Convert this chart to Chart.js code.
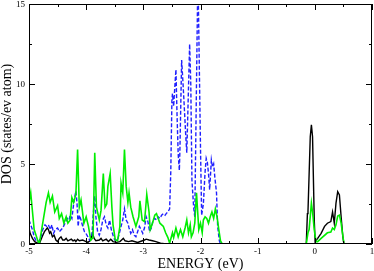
<!DOCTYPE html>
<html>
<head>
<meta charset="utf-8">
<script src="https://cdn.jsdelivr.net/npm/chart.js@4"></script>
<style>
  body { margin: 0; background: #fff; }
</style>
</head>
<body>
<canvas id="dosChart" width="374" height="271"></canvas>
<script>
// energies (eV) and densities of states
const greenE = [-5.00, -4.97, -4.91, -4.85, -4.82, -4.76, -4.70, -4.66, -4.63, -4.59, -4.55, -4.50, -4.47, -4.43, -4.39, -4.35, -4.32, -4.28, -4.25, -4.22, -4.18, -4.15, -4.12, -4.09, -4.04, -4.00, -3.96, -3.92, -3.88, -3.85, -3.82, -3.77, -3.74, -3.70, -3.67, -3.64, -3.62, -3.58, -3.55, -3.53, -3.49, -3.45, -3.41, -3.39, -3.36, -3.33, -3.30, -3.27, -3.25, -3.22, -3.18, -3.13, -3.08, -3.06, -3.02, -2.98, -2.96, -2.94, -2.90, -2.88, -2.84, -2.80, -2.77, -2.74, -2.71, -2.65, -2.61, -2.57, -2.54, -2.49, -2.47, -2.43, -2.39, -2.35, -2.31, -2.27, -2.24, -2.21, -2.18, -2.16, -2.13, -2.10, -2.07, -2.03, -2.00, -1.97, -1.95, -1.92, -1.89, -1.86, -1.83, -1.80, -1.77, -1.74, -1.71, -1.68, -1.65, -1.62, -0.15, -0.12, -0.10, -0.06, -0.04, -0.01, 0.02, 0.05, 0.11, 0.22, 0.28, 0.31, 0.34, 0.37, 0.40, 0.43, 0.46, 0.49, 0.51, 1.00];
const greenDos = [2.6, 3.2, 0.9, 0.25, 0.0, 1.3, 2.6, 3.2, 2.6, 3.0, 2.0, 2.4, 1.6, 1.9, 1.3, 1.7, 1.3, 1.5, 2.9, 2.6, 3.1, 5.9, 2.3, 2.75, 1.3, 1.7, 1.1, 0.25, 0.4, 5.7, 2.3, 1.5, 2.1, 4.4, 2.3, 2.5, 3.6, 4.4, 2.3, 1.2, 0.25, 0.2, 1.1, 3.8, 3.2, 5.9, 3.6, 2.6, 3.2, 2.3, 1.7, 1.1, 1.7, 2.7, 1.5, 1.4, 2.2, 3.1, 2.0, 0.9, 1.3, 1.8, 1.9, 1.6, 1.3, 1.1, 0.7, 0.4, 0.05, 0.7, 0.4, 1.0, 0.45, 0.9, 0.45, 1.0, 1.5, 0.7, 1.2, 0.45, 0.7, 1.3, 3.2, 0.9, 1.3, 0.7, 1.5, 1.7, 1.6, 1.3, 1.7, 2.0, 1.6, 2.2, 1.7, 0.9, 0.2, 0, 0, 0.7, 0.9, 2.55, 2.0, 0.9, 0.15, 0.15, 0.35, 0.7, 0.75, 1.0, 0.9, 1.2, 1.75, 1.8, 1.3, 0.5, 0, 0];

const blueE = [-5.00, -4.97, -4.94, -4.91, -4.87, -4.83, -4.79, -4.76, -4.72, -4.69, -4.66, -4.63, -4.60, -4.57, -4.54, -4.50, -4.47, -4.41, -4.33, -4.30, -4.28, -4.25, -4.21, -4.18, -4.16, -4.14, -4.12, -4.09, -4.06, -4.03, -4.01, -3.97, -3.94, -3.90, -3.88, -3.85, -3.83, -3.80, -3.77, -3.74, -3.71, -3.68, -3.65, -3.62, -3.59, -3.56, -3.53, -3.50, -3.45, -3.42, -3.39, -3.36, -3.33, -3.30, -3.27, -3.25, -3.22, -3.19, -3.16, -3.13, -3.10, -3.07, -3.04, -3.01, -2.98, -2.95, -2.92, -2.89, -2.86, -2.83, -2.80, -2.77, -2.74, -2.71, -2.68, -2.65, -2.62, -2.60, -2.57, -2.54, -2.52, -2.50, -2.49, -2.47, -2.46, -2.43, -2.41, -2.39, -2.37, -2.36, -2.33, -2.31, -2.29, -2.26, -2.24, -2.22, -2.19, -2.17, -2.15, -2.12, -2.10, -2.045, -2.00, -1.98, -1.95, -1.92, -1.90, -1.88, -1.86, -1.84, -1.81, -1.79, -1.77, -1.75, -1.72, -1.70, -1.67, -1.65, 1.00];
const blueDos = [1.5, 1.2, 0.9, 0.45, 0.15, 0.15, 0.45, 0.9, 1.2, 1.1, 1.2, 0.9, 1.2, 0.67, 0.9, 1.0, 0.77, 1.0, 1.6, 1.5, 1.8, 1.6, 2.75, 3.3, 2.55, 1.1, 1.8, 1.5, 1.1, 0.77, 0.7, 0.45, 0.25, 0.45, 1.7, 3.0, 1.7, 0.77, 0.55, 0.9, 1.5, 1.7, 1.2, 1.0, 1.5, 0.9, 0.55, 0.25, 0.25, 0.67, 1.1, 1.5, 2.2, 1.5, 1.3, 1.0, 0.67, 0.9, 0.55, 0.45, 0.77, 1.1, 0.9, 0.67, 1.0, 1.7, 1.4, 0.77, 1.0, 1.5, 1.6, 1.5, 1.7, 1.6, 1.8, 1.9, 1.8, 1.9, 2.0, 2.2, 4.5, 9.0, 9.4, 8.6, 9.2, 10.9, 8.0, 5.6, 4.6, 5.9, 11.5, 10.3, 9.0, 6.9, 5.7, 8.4, 12.5, 10.0, 4.0, 2.3, 1.7, 17, 6.0, 1.8, 2.5, 4.5, 5.35, 5.1, 4.4, 3.4, 5.25, 4.8, 5.0, 4.2, 3.2, 1.1, 0.2, 0, 0];

const blackE = [-5.00, -4.98, -4.94, -4.90, -4.85, -4.81, -4.77, -4.73, -4.68, -4.66, -4.64, -4.62, -4.59, -4.56, -4.53, -4.50, -4.47, -4.44, -4.41, -4.38, -4.35, -4.32, -4.26, -4.23, -4.20, -4.18, -4.15, -4.12, -4.06, -4.03, -3.97, -3.92, -3.89, -3.86, -3.83, -3.77, -3.74, -3.71, -3.65, -3.61, -3.57, -3.53, -3.47, -3.41, -3.38, -3.35, -3.32, -3.26, -3.20, -3.10, -2.98, -2.95, -2.90, -2.84, -2.78, -2.70, -2.60, -0.15, -0.13, -0.12, -0.08, -0.06, -0.04, -0.01, 0.005, 0.05, 0.11, 0.17, 0.22, 0.28, 0.31, 0.34, 0.37, 0.40, 0.43, 0.46, 0.49, 0.51, 1.00];
const blackDos = [1.0, 0.67, 0.35, 0.15, 0.05, 0.1, 0.45, 0.77, 1.0, 0.9, 0.67, 0.77, 0.45, 0.55, 0.25, 0.15, 0.35, 0.45, 0.25, 0.25, 0.35, 0.2, 0.3, 0.2, 0.25, 0.15, 0.3, 0.2, 0.25, 0.2, 0.1, 0.25, 0.67, 0.35, 0.2, 0.25, 0.35, 0.2, 0.3, 0.15, 0.3, 0.15, 0.1, 0.15, 0.25, 0.35, 0.2, 0.15, 0.2, 0.1, 0.25, 0.3, 0.25, 0.2, 0.15, 0.05, 0, 0, 1.9, 2.0, 6.7, 7.45, 6.7, 1.5, 0.15, 0.35, 0.67, 1.1, 1.3, 1.4, 2.0, 1.3, 2.55, 3.27, 3.07, 1.7, 0.45, 0, 0];

const xTicks = [-5, -4, -3, -2, -1, 0, 1];
const yTicks = [0, 5, 10, 15];

const pts = (xs, ys) => xs.map((e, i) => ({ x: e, y: ys[i] }));
const serif = "'Liberation Serif', 'Times New Roman', serif";

// inward ticks on all four sides, the box, and the tick numbers
const frameTicks = {
  id: 'frameTicks',
  afterDatasetsDraw(chart) {
    const { ctx, chartArea: a, scales: { x, y } } = chart;
    ctx.save();
    ctx.strokeStyle = '#000';
    ctx.lineWidth = 1;
    ctx.beginPath();
    for (let v = xTicks[0]; v <= xTicks[xTicks.length - 1]; v += 0.5) {
      const px = Math.round(x.getPixelForValue(v)) + 0.5;
      const len = Number.isInteger(v) ? 6 : 3;
      ctx.moveTo(px, a.bottom); ctx.lineTo(px, a.bottom - len);
      ctx.moveTo(px, a.top); ctx.lineTo(px, a.top + len);
    }
    for (let v = yTicks[0]; v <= yTicks[yTicks.length - 1]; v += 2.5) {
      const py = Math.round(y.getPixelForValue(v)) + 0.5;
      const len = v % 5 === 0 ? 6 : 3;
      ctx.moveTo(a.left, py); ctx.lineTo(a.left + len, py);
      ctx.moveTo(a.right, py); ctx.lineTo(a.right - len, py);
    }
    ctx.stroke();
    ctx.strokeRect(a.left + 0.5, a.top + 0.5, a.right - a.left - 1, a.bottom - a.top - 1);

    ctx.fillStyle = '#000';
    ctx.font = '9px ' + serif;
    ctx.textBaseline = 'alphabetic';
    ctx.textAlign = 'center';
    xTicks.forEach(v => ctx.fillText(String(v), x.getPixelForValue(v), a.bottom + 10));
    ctx.textAlign = 'right';
    yTicks.forEach(v => ctx.fillText(String(v), a.left - 4, y.getPixelForValue(v) + 3));
    ctx.restore();
  }
};

new Chart(document.getElementById('dosChart'), {
  type: 'line',
  data: {
    datasets: [
      { data: pts(greenE, greenDos), borderColor: '#00ee00', borderWidth: 1.6 },
      { data: pts(blueE, blueDos), borderColor: '#1f1fff', borderWidth: 1.4, borderDash: [4, 2] },
      { data: pts(blackE, blackDos), borderColor: '#000', borderWidth: 1.4 }
    ]
  },
  options: {
    responsive: false,
    animation: false,
    events: [],
    layout: { padding: { top: 4, right: 2, left: 0, bottom: 0 } },
    elements: { point: { radius: 0 }, line: { tension: 0 } },
    plugins: { legend: { display: false }, tooltip: { enabled: false } },
    scales: {
      x: {
        type: 'linear',
        min: -5, max: 1,
        afterFit: s => { s.height = 27; },
        grid: { display: false },
        border: { display: false },
        ticks: { display: false, stepSize: 1 },
        title: { display: true, text: 'ENERGY (eV)', color: '#000', padding: 0, font: { family: serif, size: 14, lineHeight: 1 } }
      },
      y: {
        min: 0, max: 15,
        afterFit: s => { s.width = 29; },
        grid: { display: false },
        border: { display: false },
        ticks: { display: false, stepSize: 5 },
        title: { display: true, text: 'DOS (states/ev atom)', color: '#000', padding: 0, font: { family: serif, size: 14, lineHeight: 1 } }
      }
    }
  },
  plugins: [frameTicks]
});
</script>
</body>
</html>
